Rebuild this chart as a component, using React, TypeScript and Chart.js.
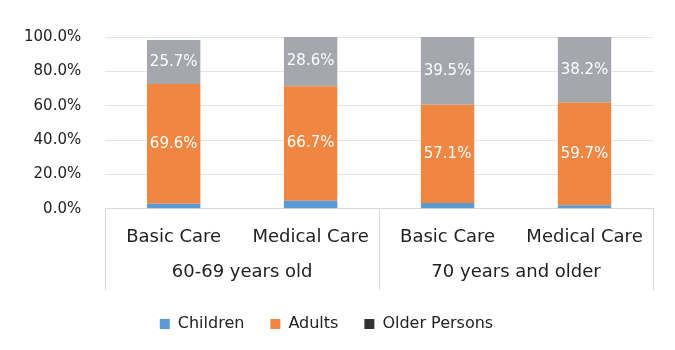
import React, { useEffect, useRef } from "react";
import { Chart, registerables } from "chart.js";

Chart.register(...registerables);

const categories = ["Basic Care", "Medical Care", "Basic Care", "Medical Care"];
const groups = ["60-69 years old", "70 years and older"];
const children = [3.0, 4.7, 3.4, 2.1];
const adults = [69.6, 66.7, 57.1, 59.7];
const olderPersons = [25.7, 28.6, 39.5, 38.2];
const yTicks = [0, 20, 40, 60, 80, 100];

const FONT = "'DejaVu Sans', sans-serif";

const valueLabels = {
  id: "valueLabels",
  afterDatasetsDraw(chart: any) {
    const ctx = chart.ctx;
    ctx.save();
    ctx.fillStyle = "#ffffff";
    ctx.font = `15px ${FONT}`;
    ctx.textAlign = "center";
    ctx.textBaseline = "middle";
    chart.data.datasets.forEach((ds: any, di: number) => {
      if (di === 0) return;
      const meta = chart.getDatasetMeta(di);
      meta.data.forEach((bar: any, i: number) => {
        const v = ds.data[i];
        const y = (bar.y + bar.base) / 2;
        ctx.fillText(v.toFixed(1) + "%", bar.x, y);
      });
    });
    ctx.restore();
  },
};

const groupSeparators = {
  id: "groupSeparators",
  afterDraw(chart: any) {
    const x = chart.scales.x;
    const x2 = chart.scales.x2;
    const ctx = chart.ctx;
    const positions = [x.left, (x.getPixelForValue(1) + x.getPixelForValue(2)) / 2, x.right];
    ctx.save();
    ctx.strokeStyle = "#d9d9d9";
    ctx.lineWidth = 1;
    positions.forEach((p: number) => {
      const px = Math.round(p) + 0.5;
      ctx.beginPath();
      ctx.moveTo(px, x.top);
      ctx.lineTo(px, x2.bottom);
      ctx.stroke();
    });
    ctx.restore();
  },
};

export default function App() {
  const ref = useRef<HTMLCanvasElement | null>(null);

  useEffect(() => {
    document.body.style.margin = "0";
    const canvas = ref.current;
    if (!canvas) return;
    const chart = new Chart(canvas, {
      type: "bar",
      data: {
        labels: categories,
        datasets: [
          { label: "Children", data: children, backgroundColor: "#5b9bd5", xAxisID: "x" },
          { label: "Adults", data: adults, backgroundColor: "#ef8641", xAxisID: "x" },
          { label: "Older Persons", data: olderPersons, backgroundColor: "#a5a7ac", xAxisID: "x" },
        ],
      },
      options: {
        animation: false,
        responsive: false,
        layout: { padding: { left: 0, right: 22, top: 37, bottom: 8 } },
        datasets: { bar: { barPercentage: 0.39, categoryPercentage: 1 } },
        scales: {
          x: {
            stacked: true,
            grid: { display: false, drawTicks: false },
            border: { display: true, color: "#d9d9d9" },
            ticks: { color: "#222", font: { family: FONT, size: 18, lineHeight: 1.2 }, padding: 18 },
            afterFit(scale: any) {
              scale.height -= 9;
            },
          },
          x2: {
            type: "category",
            position: "bottom",
            labels: groups,
            offset: true,
            grid: { display: false, drawTicks: false },
            border: { display: false },
            ticks: { color: "#222", font: { family: FONT, size: 18, lineHeight: 1.2 }, padding: 4 },
            afterFit(scale: any) {
              scale.height += 3;
            },
          },
          y: {
            stacked: true,
            min: 0,
            max: 100,
            afterBuildTicks(scale: any) {
              scale.ticks = yTicks.map((v) => ({ value: v }));
            },
            grid: { color: "#e4e4e4", drawTicks: false },
            border: { display: false },
            ticks: {
              color: "#222",
              font: { family: FONT, size: 15 },
              padding: 24,
              callback: (v: any) => Number(v).toFixed(1) + "%",
            },
          },
        },
        plugins: {
          tooltip: { enabled: false },
          legend: {
            position: "bottom",
            labels: {
              color: "#222",
              font: { family: FONT, size: 16 },
              boxWidth: 10,
              boxHeight: 10,
              padding: 26,
              generateLabels(c: any) {
                const items = Chart.defaults.plugins.legend.labels.generateLabels(c);
                return items.map((it: any, i: number) => {
                  if (i === 2) return { ...it, fillStyle: "#333333", strokeStyle: "#333333" };
                  return it;
                });
              },
            },
          },
        },
      },
      plugins: [valueLabels, groupSeparators],
    });
    return () => chart.destroy();
  }, []);

  return (
    <div style={{ width: 675, height: 350, background: "#fff" }}>
      <canvas ref={ref} width={675} height={350} style={{ display: "block" }} />
    </div>
  );
}
